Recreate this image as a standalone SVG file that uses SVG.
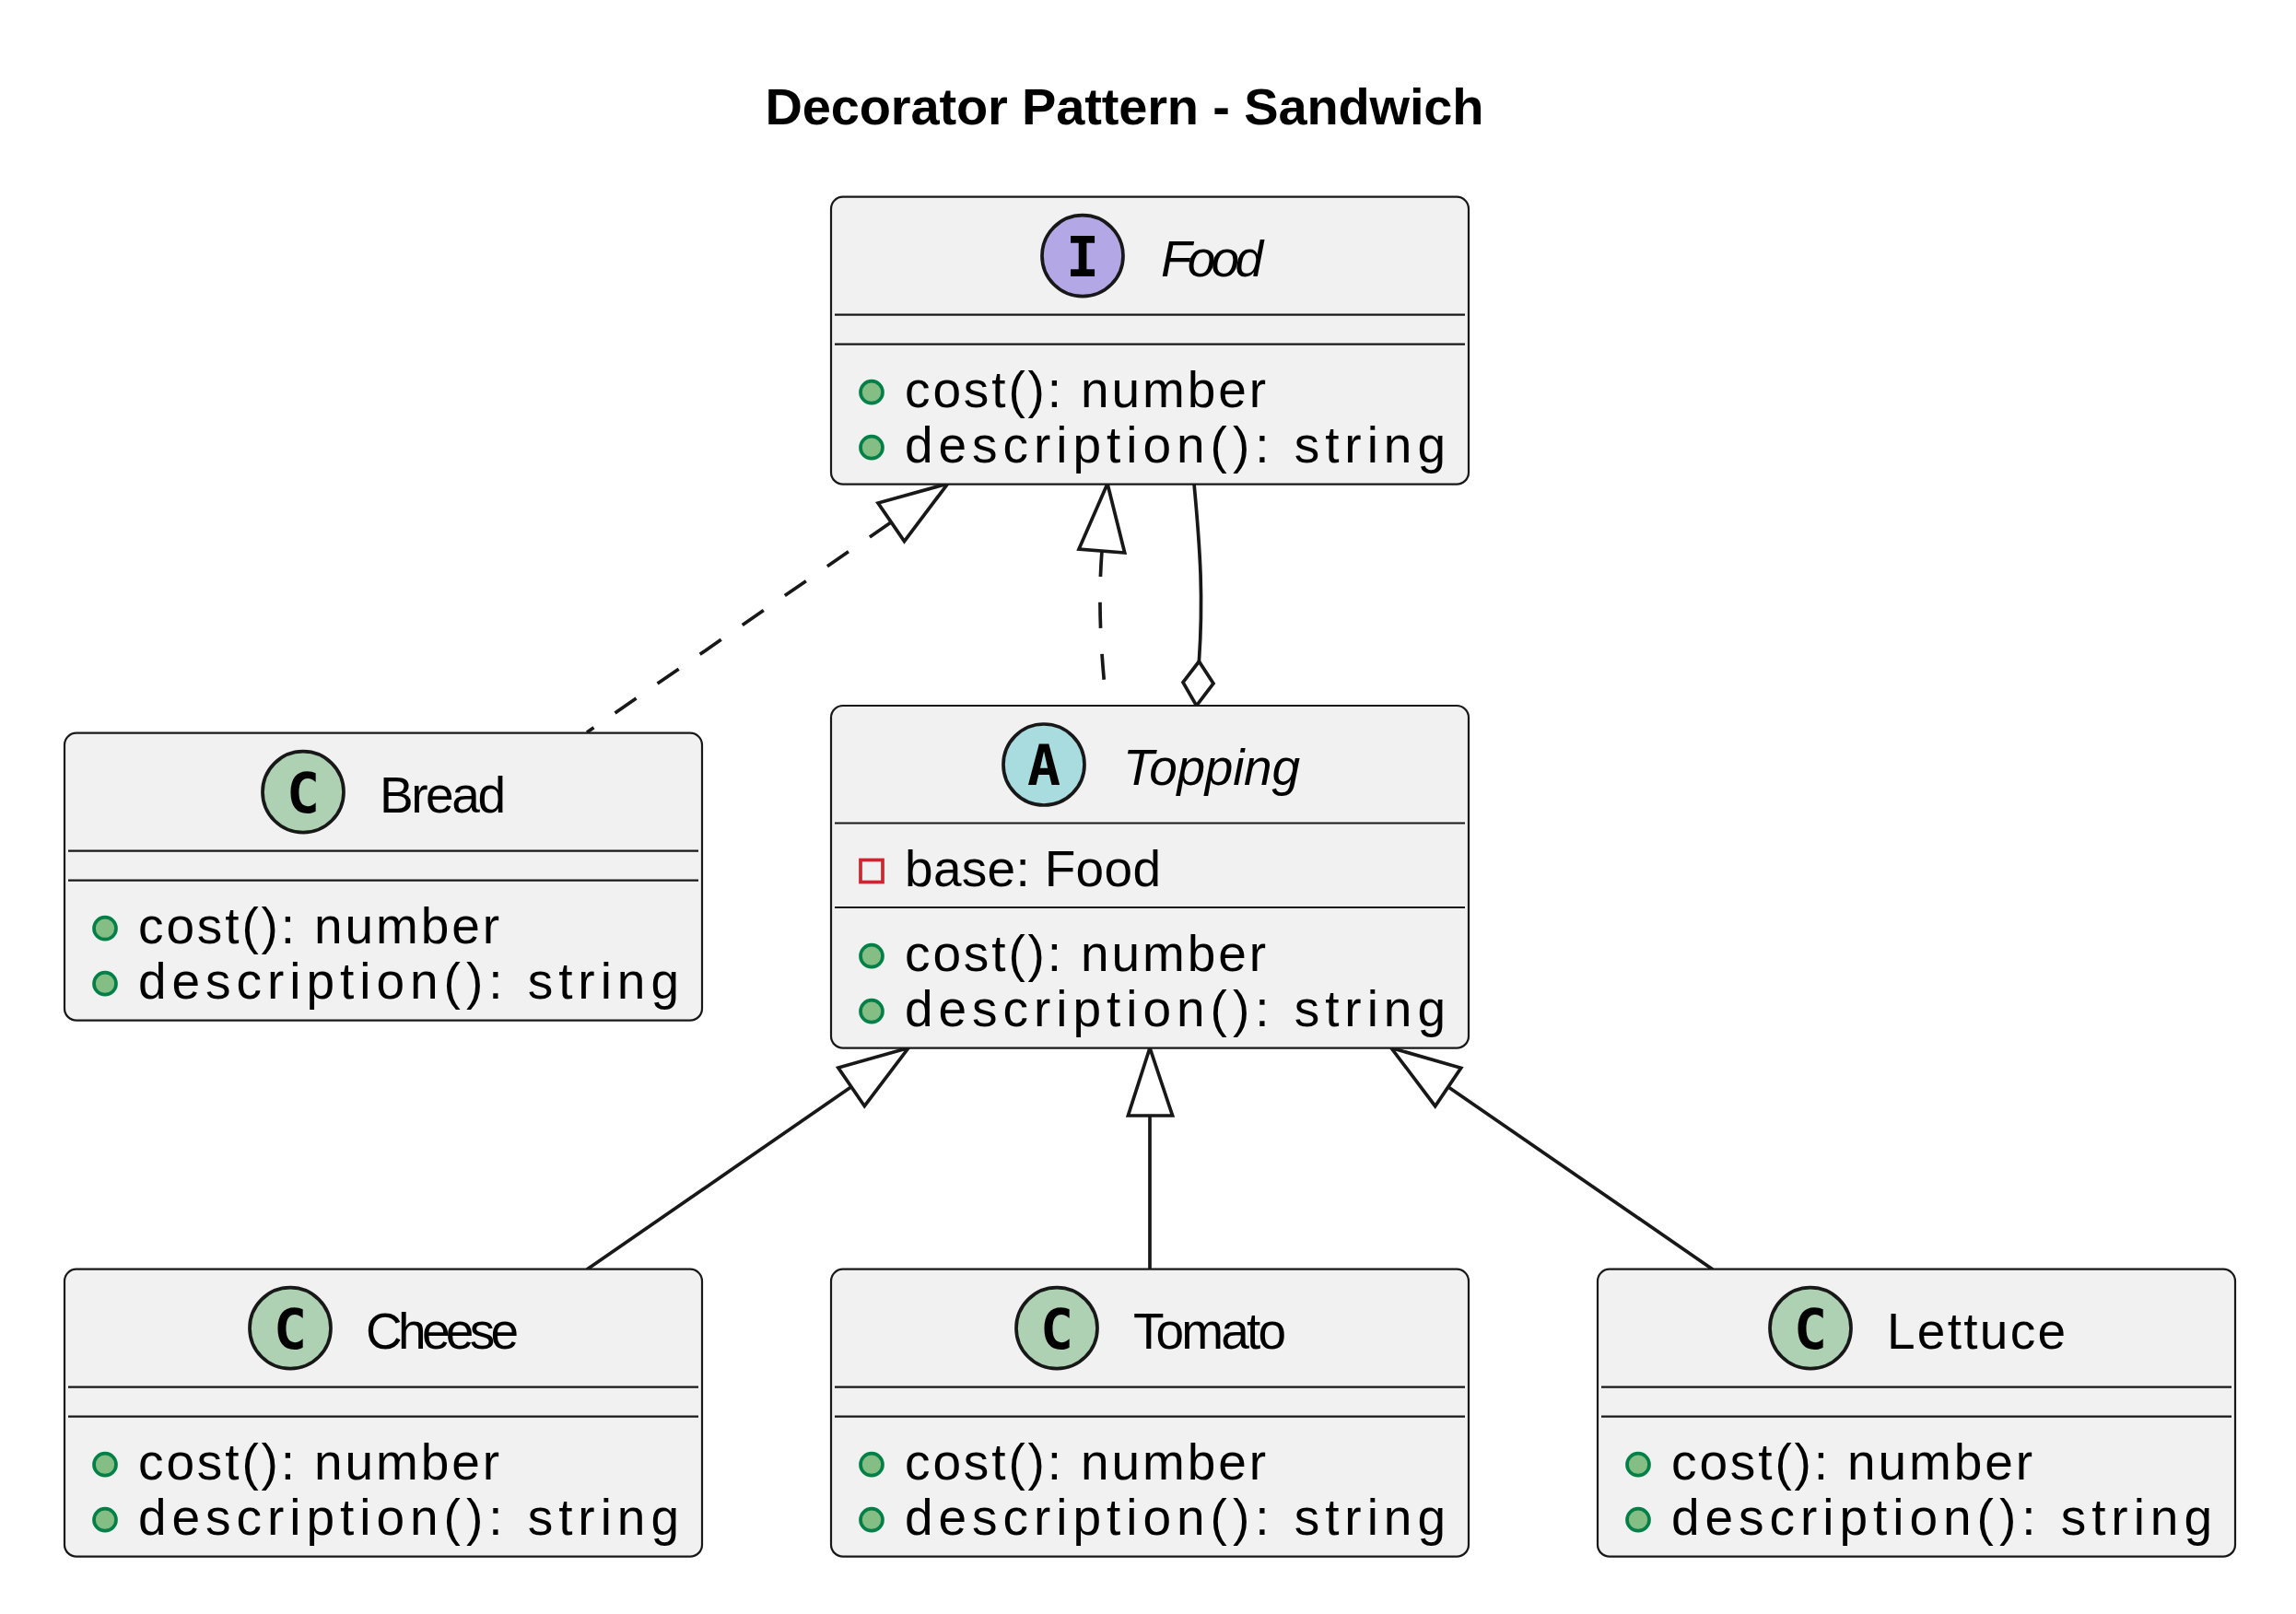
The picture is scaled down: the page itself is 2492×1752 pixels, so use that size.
<svg xmlns="http://www.w3.org/2000/svg" width="2492" height="1752" viewBox="0 0 2492 1752">
<style>
text{font-family:"Liberation Sans",Arial,sans-serif;fill:#000;font-size:55px}
.title{font-weight:700;font-size:56px}
.it{font-style:italic}
.box{fill:#F1F1F1;stroke:#181818;stroke-width:2.2}
.sep{stroke:#181818;stroke-width:2.2;fill:none}
.ci{stroke:#181818;stroke-width:3.7}
.gl{font-family:"DejaVu Sans Mono",monospace;font-weight:700;font-size:60px;text-anchor:middle}
.dot{fill:#84BE84;stroke:#038048;stroke-width:3.7}
.priv{fill:none;stroke:#C82930;stroke-width:3.7}
.ln{fill:none;stroke:#181818;stroke-width:3.7}
.dash{stroke-dasharray:28 28}
.hd{fill:#fff;stroke:#181818;stroke-width:3.7}
</style>
<text class="title" x="830.5" y="135" textLength="780" lengthAdjust="spacing">Decorator Pattern - Sandwich</text>

<g id="connectors">
<path class="ln dash" d="M967,567L637,795"/>
<polygon class="hd" points="1028.7,525 953,546 981.5,587.5"/>
<path class="ln dash" d="M1196,598C1192,650 1194,700 1201,766"/>
<polygon class="hd" points="1202,525 1171,596 1220.7,600"/>
<path class="ln" d="M1296,525C1303,600 1306,650 1301.4,718"/>
<polygon class="hd" points="1301.4,718 1284,740.7 1298.6,766 1317,742"/>
<path class="ln" d="M923.6,1180L637,1378"/>
<polygon class="hd" points="986,1137.5 909.8,1159 938.3,1200.7"/>
<path class="ln" d="M1248,1211V1378"/>
<polygon class="hd" points="1248,1137.5 1224.4,1211 1272.6,1211"/>
<path class="ln" d="M1572,1180L1859,1378"/>
<polygon class="hd" points="1510,1137.5 1585.7,1159.3 1557.7,1200.7"/>
</g>

<g id="food">
<rect class="box" x="902" y="213.7" width="692" height="312" rx="13"/>
<ellipse class="ci" cx="1175" cy="277.7" rx="44" ry="44" fill="#B4A7E5"/>
<text class="gl" x="1175" y="300">I</text>
<text class="it" x="1260" y="300.2" textLength="111" lengthAdjust="spacing">Food</text>
<path class="sep" d="M906,341.7H1590M906,373.7H1590"/>
<ellipse class="dot" cx="946" cy="425.7" rx="12" ry="12"/>
<text x="982" y="441.7" textLength="392" lengthAdjust="spacing">cost(): number</text>
<ellipse class="dot" cx="946" cy="485.7" rx="12" ry="12"/>
<text x="982" y="501.7" textLength="587" lengthAdjust="spacing">description(): string</text>
</g>

<g id="bread">
<rect class="box" x="70" y="795.7" width="692" height="312" rx="13"/>
<ellipse class="ci" cx="329" cy="859.7" rx="44" ry="44" fill="#ADD1B2"/>
<text class="gl" x="329" y="882">C</text>
<text x="412" y="881.7" textLength="137" lengthAdjust="spacing">Bread</text>
<path class="sep" d="M74,923.7H758M74,955.7H758"/>
<ellipse class="dot" cx="114" cy="1007.7" rx="12" ry="12"/>
<text x="150" y="1023.7" textLength="392" lengthAdjust="spacing">cost(): number</text>
<ellipse class="dot" cx="114" cy="1067.7" rx="12" ry="12"/>
<text x="150" y="1083.7" textLength="587" lengthAdjust="spacing">description(): string</text>
</g>

<g id="topping">
<rect class="box" x="902" y="766" width="692" height="371.7" rx="13"/>
<ellipse class="ci" cx="1133" cy="830" rx="44" ry="44" fill="#A9DCDF"/>
<text class="gl" x="1133" y="852">A</text>
<text class="it" x="1219" y="852" textLength="192" lengthAdjust="spacing">Topping</text>
<path class="sep" d="M906,893.5H1590M906,985H1590"/>
<rect class="priv" x="934" y="933.5" width="24" height="24"/>
<text x="982" y="962" textLength="278" lengthAdjust="spacing">base: Food</text>
<ellipse class="dot" cx="946" cy="1037.7" rx="12" ry="12"/>
<text x="982" y="1053.7" textLength="392" lengthAdjust="spacing">cost(): number</text>
<ellipse class="dot" cx="946" cy="1097.7" rx="12" ry="12"/>
<text x="982" y="1113.7" textLength="587" lengthAdjust="spacing">description(): string</text>
</g>

<g id="cheese">
<rect class="box" x="70" y="1377.7" width="692" height="312" rx="13"/>
<ellipse class="ci" cx="315" cy="1441.7" rx="44" ry="44" fill="#ADD1B2"/>
<text class="gl" x="315" y="1464">C</text>
<text x="397" y="1463.7" textLength="166" lengthAdjust="spacing">Cheese</text>
<path class="sep" d="M74,1505.7H758M74,1537.7H758"/>
<ellipse class="dot" cx="114" cy="1589.7" rx="12" ry="12"/>
<text x="150" y="1605.7" textLength="392" lengthAdjust="spacing">cost(): number</text>
<ellipse class="dot" cx="114" cy="1649.7" rx="12" ry="12"/>
<text x="150" y="1665.7" textLength="587" lengthAdjust="spacing">description(): string</text>
</g>

<g id="tomato">
<rect class="box" x="902" y="1377.7" width="692" height="312" rx="13"/>
<ellipse class="ci" cx="1147" cy="1441.7" rx="44" ry="44" fill="#ADD1B2"/>
<text class="gl" x="1147" y="1464">C</text>
<text x="1230" y="1463.7" textLength="166" lengthAdjust="spacing">Tomato</text>
<path class="sep" d="M906,1505.7H1590M906,1537.7H1590"/>
<ellipse class="dot" cx="946" cy="1589.7" rx="12" ry="12"/>
<text x="982" y="1605.7" textLength="392" lengthAdjust="spacing">cost(): number</text>
<ellipse class="dot" cx="946" cy="1649.7" rx="12" ry="12"/>
<text x="982" y="1665.7" textLength="587" lengthAdjust="spacing">description(): string</text>
</g>

<g id="lettuce">
<rect class="box" x="1734" y="1377.7" width="692" height="312" rx="13"/>
<ellipse class="ci" cx="1965" cy="1441.7" rx="44" ry="44" fill="#ADD1B2"/>
<text class="gl" x="1965" y="1464">C</text>
<text x="2048" y="1463.7" textLength="194" lengthAdjust="spacing">Lettuce</text>
<path class="sep" d="M1738,1505.7H2422M1738,1537.7H2422"/>
<ellipse class="dot" cx="1778" cy="1589.7" rx="12" ry="12"/>
<text x="1814" y="1605.7" textLength="392" lengthAdjust="spacing">cost(): number</text>
<ellipse class="dot" cx="1778" cy="1649.7" rx="12" ry="12"/>
<text x="1814" y="1665.7" textLength="587" lengthAdjust="spacing">description(): string</text>
</g>
</svg>
